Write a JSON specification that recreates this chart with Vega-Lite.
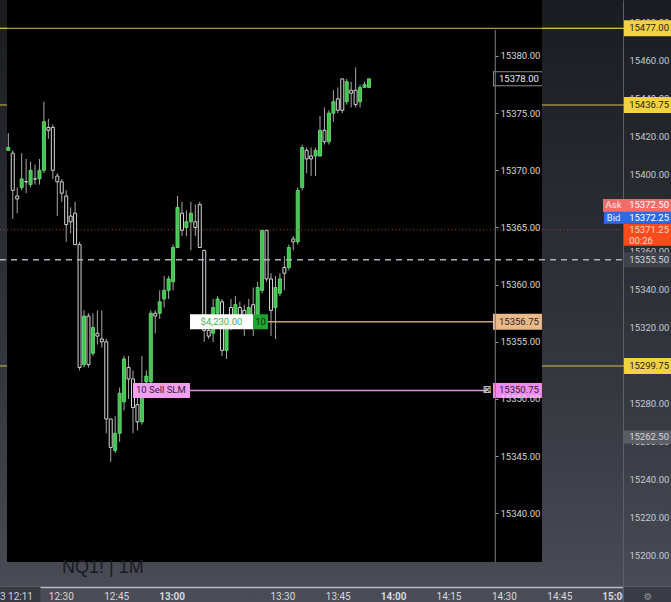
{
"$schema": "https://vega.github.io/schema/vega-lite/v6.json",
"width": 671, "height": 602, "padding": 0, "autosize": {"type": "none"},
"background": "#2b2d34",
"title": {"text": "NQ1! | 1M", "orient": "bottom", "anchor": "start", "frame": "group", "offset": 0, "dx": 62, "dy": -43, "fontSize": 18, "fontWeight": "normal", "font": "Liberation Sans", "color": "#191a1f"},
"config": {
  "view": {"stroke": null, "fill": {"gradient": "linear", "x1": 0, "y1": 0, "x2": 0, "y2": 1, "stops": [{"offset": 0, "color": "#1b1c21"}, {"offset": 0.3, "color": "#272930"}, {"offset": 0.65, "color": "#363840"}, {"offset": 1, "color": "#4a4d57"}]}},
  "text": {"font": "Roboto", "fontSize": 9.5, "baseline": "middle"}
},
"datasets": {
  "candles": [
    {"t":"2023-07-13T12:31:00Z","o":15371.75,"h":15373.25,"l":15371.75,"c":15372.0},
    {"t":"2023-07-13T12:32:00Z","o":15371.5,"h":15371.75,"l":15365.75,"c":15368.25},
    {"t":"2023-07-13T12:33:00Z","o":15367.75,"h":15368.5,"l":15366.25,"c":15367.5},
    {"t":"2023-07-13T12:34:00Z","o":15368.5,"h":15371.5,"l":15368.25,"c":15369.25},
    {"t":"2023-07-13T12:35:00Z","o":15369.0,"h":15371.0,"l":15368.0,"c":15369.0},
    {"t":"2023-07-13T12:36:00Z","o":15368.75,"h":15370.75,"l":15368.5,"c":15370.0},
    {"t":"2023-07-13T12:37:00Z","o":15369.25,"h":15370.5,"l":15368.75,"c":15369.25},
    {"t":"2023-07-13T12:38:00Z","o":15369.25,"h":15371.0,"l":15368.75,"c":15370.0},
    {"t":"2023-07-13T12:39:00Z","o":15370.0,"h":15376.0,"l":15369.75,"c":15374.25},
    {"t":"2023-07-13T12:40:00Z","o":15373.75,"h":15374.5,"l":15372.75,"c":15373.5},
    {"t":"2023-07-13T12:41:00Z","o":15373.75,"h":15374.0,"l":15369.25,"c":15370.0},
    {"t":"2023-07-13T12:42:00Z","o":15369.5,"h":15369.75,"l":15366.0,"c":15369.0},
    {"t":"2023-07-13T12:43:00Z","o":15369.0,"h":15369.25,"l":15367.25,"c":15368.0},
    {"t":"2023-07-13T12:44:00Z","o":15367.75,"h":15368.25,"l":15363.75,"c":15365.25},
    {"t":"2023-07-13T12:45:00Z","o":15366.0,"h":15366.75,"l":15364.5,"c":15365.5},
    {"t":"2023-07-13T12:46:00Z","o":15366.25,"h":15367.25,"l":15363.5,"c":15363.5},
    {"t":"2023-07-13T12:47:00Z","o":15363.5,"h":15363.75,"l":15352.5,"c":15352.75},
    {"t":"2023-07-13T12:48:00Z","o":15353.0,"h":15357.75,"l":15352.75,"c":15357.25},
    {"t":"2023-07-13T12:49:00Z","o":15357.25,"h":15357.5,"l":15352.75,"c":15353.0},
    {"t":"2023-07-13T12:50:00Z","o":15354.0,"h":15357.5,"l":15353.75,"c":15356.25},
    {"t":"2023-07-13T12:51:00Z","o":15355.75,"h":15357.75,"l":15354.75,"c":15355.5},
    {"t":"2023-07-13T12:52:00Z","o":15355.25,"h":15357.75,"l":15354.5,"c":15355.0},
    {"t":"2023-07-13T12:53:00Z","o":15355.0,"h":15355.25,"l":15347.0,"c":15348.25},
    {"t":"2023-07-13T12:54:00Z","o":15348.25,"h":15348.25,"l":15344.5,"c":15345.75},
    {"t":"2023-07-13T12:55:00Z","o":15345.5,"h":15348.5,"l":15345.25,"c":15347.0},
    {"t":"2023-07-13T12:56:00Z","o":15347.0,"h":15351.0,"l":15346.25,"c":15350.5},
    {"t":"2023-07-13T12:57:00Z","o":15349.75,"h":15353.75,"l":15349.0,"c":15353.5},
    {"t":"2023-07-13T12:58:00Z","o":15352.75,"h":15353.75,"l":15350.0,"c":15351.75},
    {"t":"2023-07-13T12:59:00Z","o":15351.75,"h":15352.5,"l":15347.0,"c":15349.25},
    {"t":"2023-07-13T13:00:00Z","o":15349.5,"h":15351.0,"l":15347.25,"c":15348.0},
    {"t":"2023-07-13T13:01:00Z","o":15348.0,"h":15353.75,"l":15347.75,"c":15350.25},
    {"t":"2023-07-13T13:02:00Z","o":15351.5,"h":15352.5,"l":15350.75,"c":15352.0},
    {"t":"2023-07-13T13:03:00Z","o":15351.5,"h":15357.75,"l":15351.25,"c":15357.5},
    {"t":"2023-07-13T13:04:00Z","o":15357.5,"h":15357.75,"l":15355.75,"c":15357.25},
    {"t":"2023-07-13T13:05:00Z","o":15357.5,"h":15359.5,"l":15357.0,"c":15358.5},
    {"t":"2023-07-13T13:06:00Z","o":15358.75,"h":15360.75,"l":15358.0,"c":15359.5},
    {"t":"2023-07-13T13:07:00Z","o":15359.5,"h":15360.75,"l":15358.75,"c":15360.5},
    {"t":"2023-07-13T13:08:00Z","o":15360.25,"h":15363.5,"l":15359.5,"c":15363.25},
    {"t":"2023-07-13T13:09:00Z","o":15363.25,"h":15367.75,"l":15363.25,"c":15366.75},
    {"t":"2023-07-13T13:10:00Z","o":15366.25,"h":15367.25,"l":15364.25,"c":15364.75},
    {"t":"2023-07-13T13:11:00Z","o":15365.0,"h":15366.5,"l":15364.25,"c":15365.5},
    {"t":"2023-07-13T13:12:00Z","o":15365.5,"h":15367.25,"l":15363.0,"c":15366.25},
    {"t":"2023-07-13T13:13:00Z","o":15365.5,"h":15367.0,"l":15364.25,"c":15365.0},
    {"t":"2023-07-13T13:14:00Z","o":15367.0,"h":15367.25,"l":15363.25,"c":15363.25},
    {"t":"2023-07-13T13:15:00Z","o":15363.0,"h":15363.0,"l":15355.0,"c":15356.0},
    {"t":"2023-07-13T13:16:00Z","o":15356.0,"h":15357.25,"l":15355.25,"c":15355.5},
    {"t":"2023-07-13T13:17:00Z","o":15355.75,"h":15358.75,"l":15355.0,"c":15358.0},
    {"t":"2023-07-13T13:18:00Z","o":15357.5,"h":15359.0,"l":15357.0,"c":15358.75},
    {"t":"2023-07-13T13:19:00Z","o":15358.5,"h":15358.75,"l":15353.75,"c":15354.25},
    {"t":"2023-07-13T13:20:00Z","o":15354.25,"h":15357.25,"l":15353.5,"c":15356.25},
    {"t":"2023-07-13T13:21:00Z","o":15358.0,"h":15358.75,"l":15356.0,"c":15356.75},
    {"t":"2023-07-13T13:22:00Z","o":15356.75,"h":15359.0,"l":15356.5,"c":15358.25},
    {"t":"2023-07-13T13:23:00Z","o":15358.0,"h":15358.5,"l":15356.25,"c":15357.0},
    {"t":"2023-07-13T13:24:00Z","o":15357.75,"h":15358.25,"l":15355.5,"c":15356.5},
    {"t":"2023-07-13T13:25:00Z","o":15356.75,"h":15358.75,"l":15356.5,"c":15358.0},
    {"t":"2023-07-13T13:26:00Z","o":15358.25,"h":15359.75,"l":15355.5,"c":15357.0},
    {"t":"2023-07-13T13:27:00Z","o":15357.25,"h":15360.25,"l":15357.0,"c":15359.75},
    {"t":"2023-07-13T13:28:00Z","o":15359.5,"h":15364.75,"l":15359.25,"c":15364.75},
    {"t":"2023-07-13T13:29:00Z","o":15364.75,"h":15364.75,"l":15360.25,"c":15360.5},
    {"t":"2023-07-13T13:30:00Z","o":15360.5,"h":15361.0,"l":15355.5,"c":15357.75},
    {"t":"2023-07-13T13:31:00Z","o":15358.0,"h":15360.75,"l":15355.25,"c":15359.75},
    {"t":"2023-07-13T13:32:00Z","o":15359.25,"h":15361.0,"l":15359.0,"c":15360.5},
    {"t":"2023-07-13T13:33:00Z","o":15361.5,"h":15362.5,"l":15359.5,"c":15361.0},
    {"t":"2023-07-13T13:34:00Z","o":15361.5,"h":15363.5,"l":15361.25,"c":15363.25},
    {"t":"2023-07-13T13:35:00Z","o":15364.0,"h":15364.25,"l":15363.0,"c":15363.75},
    {"t":"2023-07-13T13:36:00Z","o":15363.75,"h":15368.5,"l":15363.5,"c":15368.25},
    {"t":"2023-07-13T13:37:00Z","o":15368.5,"h":15372.25,"l":15368.25,"c":15372.0},
    {"t":"2023-07-13T13:38:00Z","o":15371.75,"h":15372.0,"l":15369.75,"c":15371.0},
    {"t":"2023-07-13T13:39:00Z","o":15371.25,"h":15372.0,"l":15369.5,"c":15371.0},
    {"t":"2023-07-13T13:40:00Z","o":15371.25,"h":15372.0,"l":15369.5,"c":15371.75},
    {"t":"2023-07-13T13:41:00Z","o":15371.25,"h":15374.75,"l":15371.25,"c":15373.5},
    {"t":"2023-07-13T13:42:00Z","o":15373.5,"h":15375.5,"l":15372.25,"c":15372.5},
    {"t":"2023-07-13T13:43:00Z","o":15372.5,"h":15375.25,"l":15372.25,"c":15375.0},
    {"t":"2023-07-13T13:44:00Z","o":15375.0,"h":15377.0,"l":15374.25,"c":15376.0},
    {"t":"2023-07-13T13:45:00Z","o":15376.25,"h":15377.25,"l":15375.0,"c":15375.25},
    {"t":"2023-07-13T13:46:00Z","o":15378.0,"h":15378.0,"l":15375.0,"c":15375.25},
    {"t":"2023-07-13T13:47:00Z","o":15376.0,"h":15378.0,"l":15375.75,"c":15377.75},
    {"t":"2023-07-13T13:48:00Z","o":15377.0,"h":15377.75,"l":15375.5,"c":15376.75},
    {"t":"2023-07-13T13:49:00Z","o":15377.0,"h":15379.0,"l":15375.5,"c":15375.75},
    {"t":"2023-07-13T13:50:00Z","o":15376.0,"h":15377.5,"l":15375.5,"c":15377.25},
    {"t":"2023-07-13T13:51:00Z","o":15377.25,"h":15377.75,"l":15377.25,"c":15377.5},
    {"t":"2023-07-13T13:52:00Z","o":15377.25,"h":15378.0,"l":15377.25,"c":15378.0}
  ],
  "alerts": [{"price": 15477}, {"price": 15436.75}, {"price": 15299.75}],
  "quote": [
    {"price": 15372.5, "role": "ask", "tag": "Ask"},
    {"price": 15372.25, "role": "bid", "tag": "Bid"},
    {"price": 15371.25, "role": "last", "countdown": "00:26"},
    {"price": 15355.5, "role": "crosshair"},
    {"price": 15262.5, "role": "mark"}
  ],
  "orders": [
    {"price": 15356.75, "role": "position", "qty": 10, "pnl": "$4,230.00"},
    {"price": 15350.75, "role": "stop", "qty": 10, "tag": "10 Sell SLM"}
  ],
  "lastbar": [{"price": 15378.0}]
},
"layer": [
  {
    "data": {"name": "alerts"},
    "mark": {"type": "rule", "color": "#d6bd52", "strokeWidth": 1},
    "encoding": {
      "x": {"datum": {"year":2023,"month":7,"date":13,"hours":12,"minutes":13,"seconds":32,"milliseconds":100,"utc":true}, "type": "temporal",
        "scale": {"type": "utc", "nice": false, "padding": 0, "domain": [{"year":2023,"month":7,"date":13,"hours":12,"minutes":13,"seconds":32,"milliseconds":100,"utc":true}, {"year":2023,"month":7,"date":13,"hours":15,"minutes":15,"seconds":15,"utc":true}]},
        "axis": {"orient": "bottom", "offset": -15, "title": null, "grid": false, "tickSize": 0, "labelPadding": 4,
          "values": [
            {"year":2023,"month":7,"date":13,"hours":12,"minutes":30,"utc":true},
            {"year":2023,"month":7,"date":13,"hours":12,"minutes":45,"utc":true},
            {"year":2023,"month":7,"date":13,"hours":13,"minutes":0,"utc":true},
            {"year":2023,"month":7,"date":13,"hours":13,"minutes":15,"utc":true},
            {"year":2023,"month":7,"date":13,"hours":13,"minutes":30,"utc":true},
            {"year":2023,"month":7,"date":13,"hours":13,"minutes":45,"utc":true},
            {"year":2023,"month":7,"date":13,"hours":14,"minutes":0,"utc":true},
            {"year":2023,"month":7,"date":13,"hours":14,"minutes":15,"utc":true},
            {"year":2023,"month":7,"date":13,"hours":14,"minutes":30,"utc":true},
            {"year":2023,"month":7,"date":13,"hours":14,"minutes":45,"utc":true},
            {"year":2023,"month":7,"date":13,"hours":15,"minutes":0,"utc":true}
          ],
          "labelExpr": "(utchours(datum.value) == 13 && utcminutes(datum.value) == 15) ? '' : utcFormat(datum.value, '%H:%M')",
          "labelFontWeight": {"condition": {"test": "utcminutes(datum.value) == 0", "value": "bold"}, "value": "normal"},
          "labelColor": "#d7d8dc", "labelFont": "Roboto", "labelFontSize": 10, "labelOverlap": false, "labelFlush": false,
          "domainColor": "#b9bcc4", "domainWidth": 1.5}},
      "x2": {"datum": {"year":2023,"month":7,"date":13,"hours":15,"minutes":15,"seconds":15,"utc":true}},
      "y": {"field": "price", "type": "quantitative", "scale": {"domain": [15175.85, 15491.86], "nice": false, "zero": false},
        "axis": {"orient": "right", "offset": -48, "title": null, "grid": false, "tickSize": 0, "labelPadding": 6,
          "values": [15200, 15220, 15240, 15260, 15280, 15320, 15340, 15360, 15400, 15420, 15440, 15460, 15480],
          "format": ".2f", "labelColor": "#c9cacf", "labelFont": "Roboto", "labelFontSize": 9.5, "labelOverlap": false, "labelFlush": false, "labelBound": false,
          "domainColor": "#5d6069", "domainWidth": 1}}
    }
  },
  {
    "layer": [
      {
        "data": {"values": [{}]},
        "mark": {"type": "rect", "color": "#000000"},
        "encoding": {
          "x": {"datum": {"year":2023,"month":7,"date":13,"hours":12,"minutes":30,"seconds":42,"milliseconds":500,"utc":true}, "type": "temporal",
            "scale": {"type": "utc", "nice": false, "padding": 0, "domain": [{"year":2023,"month":7,"date":13,"hours":12,"minutes":29,"seconds":8,"milliseconds":170,"utc":true}, {"year":2023,"month":7,"date":13,"hours":14,"minutes":59,"seconds":49,"milliseconds":200,"utc":true}]},
            "axis": null},
          "x2": {"datum": {"year":2023,"month":7,"date":13,"hours":14,"minutes":30,"seconds":50,"milliseconds":900,"utc":true}},
          "y": {"datum": 15384.898, "type": "quantitative", "scale": {"domain": [15332.242, 15384.898], "nice": false, "zero": false}, "axis": null},
          "y2": {"datum": 15335.742}
        }
      },
      {
        "data": {"name": "candles"},
        "mark": {"type": "rule", "color": "#a9a9a9", "strokeWidth": 1},
        "encoding": {
          "x": {"field": "t", "type": "temporal", "axis": null},
          "y": {"field": "l", "type": "quantitative", "axis": null},
          "y2": {"field": "h"}
        }
      },
      {
        "data": {"name": "candles"},
        "mark": {"type": "bar", "width": 3, "strokeWidth": 1},
        "encoding": {
          "x": {"field": "t", "type": "temporal", "axis": null},
          "y": {"field": "o", "type": "quantitative", "axis": null},
          "y2": {"field": "c"},
          "fill": {"condition": {"test": "datum.c > datum.o", "value": "#3fc44e"}, "value": "#000000"},
          "stroke": {"condition": {"test": "datum.c > datum.o", "value": "#62d36d"}, "value": "#d6d6d6"}
        }
      },
      {
        "data": {"name": "orders"},
        "transform": [{"filter": "datum.role == 'position'"}],
        "mark": {"type": "rule", "color": "#c7a27d", "strokeWidth": 1.5},
        "encoding": {
          "x": {"datum": {"year":2023,"month":7,"date":13,"hours":13,"minutes":29,"seconds":19,"milliseconds":100,"utc":true}, "type": "temporal", "axis": null},
          "x2": {"datum": {"year":2023,"month":7,"date":13,"hours":14,"minutes":19,"seconds":50,"milliseconds":700,"utc":true}},
          "y": {"field": "price", "type": "quantitative", "axis": null}
        }
      },
      {
        "data": {"name": "orders"},
        "transform": [{"filter": "datum.role == 'stop'"}],
        "mark": {"type": "rule", "color": "#e78ee7", "strokeWidth": 1.5},
        "encoding": {
          "x": {"datum": {"year":2023,"month":7,"date":13,"hours":13,"minutes":11,"seconds":48,"milliseconds":200,"utc":true}, "type": "temporal", "axis": null},
          "x2": {"datum": {"year":2023,"month":7,"date":13,"hours":14,"minutes":18,"seconds":29,"milliseconds":900,"utc":true}},
          "y": {"field": "price", "type": "quantitative", "axis": null}
        }
      },
      {
        "data": {"name": "lastbar"},
        "mark": {"type": "rule", "color": "#8e8e92", "strokeWidth": 15},
        "encoding": {
          "x": {"datum": {"year":2023,"month":7,"date":13,"hours":14,"minutes":19,"seconds":50,"milliseconds":700,"utc":true}, "type": "temporal", "axis": null},
          "x2": {"datum": {"year":2023,"month":7,"date":13,"hours":14,"minutes":30,"seconds":50,"milliseconds":900,"utc":true}},
          "y": {"field": "price", "type": "quantitative", "axis": null}
        }
      },
      {
        "data": {"name": "lastbar"},
        "mark": {"type": "rule", "color": "#000000", "strokeWidth": 13},
        "encoding": {
          "x": {"datum": {"year":2023,"month":7,"date":13,"hours":14,"minutes":20,"seconds":4,"milliseconds":200,"utc":true}, "type": "temporal", "axis": null},
          "x2": {"datum": {"year":2023,"month":7,"date":13,"hours":14,"minutes":30,"seconds":50,"milliseconds":900,"utc":true}},
          "y": {"field": "price", "type": "quantitative", "axis": null}
        }
      },
      {
        "data": {"name": "orders"},
        "transform": [{"filter": "datum.role == 'position'"}],
        "mark": {"type": "rule", "color": "#eab98a", "strokeWidth": 16},
        "encoding": {
          "x": {"datum": {"year":2023,"month":7,"date":13,"hours":14,"minutes":19,"seconds":50,"milliseconds":700,"utc":true}, "type": "temporal", "axis": null},
          "x2": {"datum": {"year":2023,"month":7,"date":13,"hours":14,"minutes":30,"seconds":50,"milliseconds":900,"utc":true}},
          "y": {"field": "price", "type": "quantitative", "axis": null}
        }
      },
      {
        "data": {"name": "orders"},
        "transform": [{"filter": "datum.role == 'stop'"}],
        "mark": {"type": "rule", "color": "#f08cf0", "strokeWidth": 15},
        "encoding": {
          "x": {"datum": {"year":2023,"month":7,"date":13,"hours":14,"minutes":19,"seconds":50,"milliseconds":700,"utc":true}, "type": "temporal", "axis": null},
          "x2": {"datum": {"year":2023,"month":7,"date":13,"hours":14,"minutes":30,"seconds":50,"milliseconds":900,"utc":true}},
          "y": {"field": "price", "type": "quantitative", "axis": null}
        }
      },
      {
        "data": {"name": "orders"},
        "transform": [{"filter": "datum.role == 'position'"}],
        "mark": {"type": "rule", "color": "#ffffff", "strokeWidth": 15},
        "encoding": {
          "x": {"datum": {"year":2023,"month":7,"date":13,"hours":13,"minutes":11,"seconds":48,"milliseconds":200,"utc":true}, "type": "temporal", "axis": null},
          "x2": {"datum": {"year":2023,"month":7,"date":13,"hours":13,"minutes":25,"seconds":57,"utc":true}},
          "y": {"field": "price", "type": "quantitative", "axis": null}
        }
      },
      {
        "data": {"name": "orders"},
        "transform": [{"filter": "datum.role == 'position'"}],
        "mark": {"type": "rule", "color": "#1fa631", "strokeWidth": 15},
        "encoding": {
          "x": {"datum": {"year":2023,"month":7,"date":13,"hours":13,"minutes":25,"seconds":57,"utc":true}, "type": "temporal", "axis": null},
          "x2": {"datum": {"year":2023,"month":7,"date":13,"hours":13,"minutes":29,"seconds":19,"milliseconds":100,"utc":true}},
          "y": {"field": "price", "type": "quantitative", "axis": null}
        }
      },
      {
        "data": {"name": "orders"},
        "transform": [{"filter": "datum.role == 'stop'"}],
        "mark": {"type": "rule", "color": "#f29ff2", "strokeWidth": 15},
        "encoding": {
          "x": {"datum": {"year":2023,"month":7,"date":13,"hours":12,"minutes":59,"seconds":0,"milliseconds":200,"utc":true}, "type": "temporal", "axis": null},
          "x2": {"datum": {"year":2023,"month":7,"date":13,"hours":13,"minutes":11,"seconds":48,"milliseconds":200,"utc":true}},
          "y": {"field": "price", "type": "quantitative", "axis": null}
        }
      },
      {
        "data": {"name": "orders"},
        "transform": [{"filter": "datum.role == 'stop'"}],
        "mark": {"type": "text", "text": "⊠", "font": "DejaVu Sans", "fontSize": 10, "color": "#e4e4e4", "align": "center"},
        "encoding": {
          "x": {"datum": {"year":2023,"month":7,"date":13,"hours":14,"minutes":18,"seconds":29,"milliseconds":900,"utc":true}, "type": "temporal", "axis": null},
          "y": {"field": "price", "type": "quantitative", "axis": null}
        }
      },
      {
        "data": {"name": "lastbar"},
        "mark": {"type": "text", "align": "left", "color": "#f0f0f0"},
        "encoding": {
          "x": {"datum": {"year":2023,"month":7,"date":13,"hours":14,"minutes":21,"seconds":11,"milliseconds":500,"utc":true}, "type": "temporal", "axis": null},
          "y": {"field": "price", "type": "quantitative", "axis": null},
          "text": {"field": "price", "type": "quantitative", "format": ".2f"}
        }
      },
      {
        "data": {"name": "orders"},
        "mark": {"type": "text", "align": "left", "color": "#2a2328"},
        "encoding": {
          "x": {"datum": {"year":2023,"month":7,"date":13,"hours":14,"minutes":21,"seconds":11,"milliseconds":500,"utc":true}, "type": "temporal", "axis": null},
          "y": {"field": "price", "type": "quantitative", "axis": null},
          "text": {"field": "price", "type": "quantitative", "format": ".2f"}
        }
      },
      {
        "data": {"name": "orders"},
        "transform": [{"filter": "datum.role == 'position'"}],
        "mark": {"type": "text", "align": "center", "color": "#3bb34b", "fontSize": 9.5},
        "encoding": {
          "x": {"datum": {"year":2023,"month":7,"date":13,"hours":13,"minutes":18,"seconds":52,"milliseconds":600,"utc":true}, "type": "temporal", "axis": null},
          "y": {"field": "price", "type": "quantitative", "axis": null},
          "text": {"field": "pnl", "type": "nominal"}
        }
      },
      {
        "data": {"name": "orders"},
        "transform": [{"filter": "datum.role == 'position'"}],
        "mark": {"type": "text", "align": "center", "color": "#0e2a10", "fontSize": 9.5},
        "encoding": {
          "x": {"datum": {"year":2023,"month":7,"date":13,"hours":13,"minutes":27,"seconds":38,"milliseconds":100,"utc":true}, "type": "temporal", "axis": null},
          "y": {"field": "price", "type": "quantitative", "axis": null},
          "text": {"field": "qty", "type": "nominal"}
        }
      },
      {
        "data": {"name": "orders"},
        "transform": [{"filter": "datum.role == 'stop'"}],
        "mark": {"type": "text", "align": "left", "color": "#3b1a40", "fontSize": 9.5},
        "encoding": {
          "x": {"datum": {"year":2023,"month":7,"date":13,"hours":12,"minutes":59,"seconds":40,"milliseconds":600,"utc":true}, "type": "temporal", "axis": null},
          "y": {"field": "price", "type": "quantitative", "axis": null},
          "text": {"field": "tag", "type": "nominal"}
        }
      }
    ]
  },
  {
    "data": {"values": [{}]},
    "mark": {"type": "rule", "color": "#7d7f85", "strokeWidth": 1},
    "encoding": {
      "x": {"datum": {"year":2023,"month":7,"date":13,"hours":14,"minutes":20,"seconds":21,"milliseconds":700,"utc":true}, "type": "temporal",
        "scale": {"type": "utc", "nice": false, "padding": 0, "domain": [{"year":2023,"month":7,"date":13,"hours":12,"minutes":29,"seconds":8,"milliseconds":170,"utc":true}, {"year":2023,"month":7,"date":13,"hours":14,"minutes":59,"seconds":49,"milliseconds":200,"utc":true}]},
        "axis": null},
      "y": {"datum": 15382.274, "type": "quantitative", "scale": {"domain": [15332.242, 15384.898], "nice": false, "zero": false},
        "axis": {"orient": "right", "offset": -176, "zindex": 1, "title": null, "grid": false, "domain": false,
          "values": [15340, 15345, 15350, 15355, 15360, 15365, 15370, 15375, 15380], "format": ".2f",
          "tickSize": 3, "tickColor": "#9a9a9a", "labelPadding": 2, "labelColor": "#d8d8d8", "labelFont": "Roboto", "labelFontSize": 9.5,
          "labelOverlap": false, "labelFlush": false, "labelBound": false}},
      "y2": {"datum": 15335.742}
    }
  },
  {
    "encoding": {
      "y": {"field": "price", "type": "quantitative", "scale": {"domain": [15175.85, 15491.86], "nice": false, "zero": false}, "axis": null}
    },
    "layer": [
      {
        "data": {"name": "alerts"},
        "transform": [{"filter": "datum.price > 15450"}],
        "mark": {"type": "rule", "color": "#d6bd52", "strokeWidth": 1},
        "encoding": {
          "x": {"datum": {"year":2023,"month":7,"date":13,"hours":12,"minutes":13,"seconds":32,"milliseconds":100,"utc":true}, "type": "temporal",
            "scale": {"type": "utc", "nice": false, "padding": 0, "domain": [{"year":2023,"month":7,"date":13,"hours":12,"minutes":13,"seconds":32,"milliseconds":100,"utc":true}, {"year":2023,"month":7,"date":13,"hours":15,"minutes":15,"seconds":15,"utc":true}]},
            "axis": null},
          "x2": {"datum": {"year":2023,"month":7,"date":13,"hours":15,"minutes":15,"seconds":15,"utc":true}}
        }
      },
      {
        "data": {"name": "quote"},
        "transform": [{"filter": "datum.role == 'last'"}],
        "mark": {"type": "rule", "color": "#a3392b", "strokeWidth": 1, "strokeDash": [1, 2.5]},
        "encoding": {
          "x": {"datum": {"year":2023,"month":7,"date":13,"hours":12,"minutes":13,"seconds":32,"milliseconds":100,"utc":true}, "type": "temporal", "axis": null},
          "x2": {"datum": {"year":2023,"month":7,"date":13,"hours":15,"minutes":15,"seconds":15,"utc":true}}
        }
      },
      {
        "data": {"name": "quote"},
        "transform": [{"filter": "datum.role == 'crosshair'"}],
        "mark": {"type": "rule", "color": "#aeb0b7", "strokeWidth": 1.5, "strokeDash": [6, 5]},
        "encoding": {
          "x": {"datum": {"year":2023,"month":7,"date":13,"hours":12,"minutes":13,"seconds":32,"milliseconds":100,"utc":true}, "type": "temporal", "axis": null},
          "x2": {"datum": {"year":2023,"month":7,"date":13,"hours":15,"minutes":15,"seconds":15,"utc":true}}
        }
      },
      {
        "data": {"name": "alerts"},
        "mark": {"type": "rule", "color": "#f3d242", "strokeWidth": 16},
        "encoding": {
          "x": {"datum": {"year":2023,"month":7,"date":13,"hours":15,"minutes":2,"seconds":31,"utc":true}, "type": "temporal", "axis": null},
          "x2": {"datum": {"year":2023,"month":7,"date":13,"hours":15,"minutes":15,"seconds":15,"utc":true}}
        }
      },
      {
        "data": {"name": "alerts"},
        "mark": {"type": "text", "align": "left", "color": "#1e1e1e"},
        "encoding": {
          "x": {"datum": {"year":2023,"month":7,"date":13,"hours":15,"minutes":3,"seconds":55,"utc":true}, "type": "temporal", "axis": null},
          "text": {"field": "price", "type": "quantitative", "format": ".2f"}
        }
      },
      {
        "data": {"name": "quote"},
        "transform": [{"filter": "datum.role == 'ask'"}],
        "mark": {"type": "rule", "color": "#f26b6b", "strokeWidth": 13, "yOffset": -22},
        "encoding": {
          "x": {"datum": {"year":2023,"month":7,"date":13,"hours":14,"minutes":56,"seconds":50,"utc":true}, "type": "temporal", "axis": null},
          "x2": {"datum": {"year":2023,"month":7,"date":13,"hours":15,"minutes":15,"seconds":15,"utc":true}}
        }
      },
      {
        "data": {"name": "quote"},
        "transform": [{"filter": "datum.role == 'bid'"}],
        "mark": {"type": "rule", "color": "#2c6be8", "strokeWidth": 12, "yOffset": -10},
        "encoding": {
          "x": {"datum": {"year":2023,"month":7,"date":13,"hours":14,"minutes":57,"seconds":6,"utc":true}, "type": "temporal", "axis": null},
          "x2": {"datum": {"year":2023,"month":7,"date":13,"hours":15,"minutes":15,"seconds":15,"utc":true}}
        }
      },
      {
        "data": {"name": "quote"},
        "transform": [{"filter": "datum.role == 'last'"}],
        "mark": {"type": "rule", "color": "#ff4b1c", "strokeWidth": 22, "yOffset": 5},
        "encoding": {
          "x": {"datum": {"year":2023,"month":7,"date":13,"hours":15,"minutes":2,"seconds":31,"utc":true}, "type": "temporal", "axis": null},
          "x2": {"datum": {"year":2023,"month":7,"date":13,"hours":15,"minutes":15,"seconds":15,"utc":true}}
        }
      },
      {
        "data": {"name": "quote"},
        "transform": [{"filter": "datum.role == 'crosshair'"}],
        "mark": {"type": "rule", "color": "#3f424b", "strokeWidth": 15},
        "encoding": {
          "x": {"datum": {"year":2023,"month":7,"date":13,"hours":15,"minutes":2,"seconds":31,"utc":true}, "type": "temporal", "axis": null},
          "x2": {"datum": {"year":2023,"month":7,"date":13,"hours":15,"minutes":15,"seconds":15,"utc":true}}
        }
      },
      {
        "data": {"name": "quote"},
        "transform": [{"filter": "datum.role == 'mark'"}],
        "mark": {"type": "rule", "color": "#5b5d65", "strokeWidth": 13},
        "encoding": {
          "x": {"datum": {"year":2023,"month":7,"date":13,"hours":15,"minutes":2,"seconds":31,"utc":true}, "type": "temporal", "axis": null},
          "x2": {"datum": {"year":2023,"month":7,"date":13,"hours":15,"minutes":15,"seconds":15,"utc":true}}
        }
      },
      {
        "data": {"name": "quote"},
        "transform": [{"filter": "datum.role == 'ask'"}],
        "mark": {"type": "text", "align": "center", "color": "#ffe6e6", "yOffset": -22},
        "encoding": {
          "x": {"datum": {"year":2023,"month":7,"date":13,"hours":14,"minutes":59,"seconds":41,"utc":true}, "type": "temporal", "axis": null},
          "text": {"field": "tag", "type": "nominal"}
        }
      },
      {
        "data": {"name": "quote"},
        "transform": [{"filter": "datum.role == 'bid'"}],
        "mark": {"type": "text", "align": "center", "color": "#e6eeff", "yOffset": -10},
        "encoding": {
          "x": {"datum": {"year":2023,"month":7,"date":13,"hours":14,"minutes":59,"seconds":41,"utc":true}, "type": "temporal", "axis": null},
          "text": {"field": "tag", "type": "nominal"}
        }
      },
      {
        "data": {"name": "quote"},
        "transform": [{"filter": "datum.role == 'ask'"}],
        "mark": {"type": "text", "align": "left", "color": "#ffffff", "yOffset": -22},
        "encoding": {
          "x": {"datum": {"year":2023,"month":7,"date":13,"hours":15,"minutes":3,"seconds":55,"utc":true}, "type": "temporal", "axis": null},
          "text": {"field": "price", "type": "quantitative", "format": ".2f"}
        }
      },
      {
        "data": {"name": "quote"},
        "transform": [{"filter": "datum.role == 'bid'"}],
        "mark": {"type": "text", "align": "left", "color": "#ffffff", "yOffset": -10},
        "encoding": {
          "x": {"datum": {"year":2023,"month":7,"date":13,"hours":15,"minutes":3,"seconds":55,"utc":true}, "type": "temporal", "axis": null},
          "text": {"field": "price", "type": "quantitative", "format": ".2f"}
        }
      },
      {
        "data": {"name": "quote"},
        "transform": [{"filter": "datum.role == 'last'"}],
        "mark": {"type": "text", "align": "left", "color": "#ffd9cc", "yOffset": 0},
        "encoding": {
          "x": {"datum": {"year":2023,"month":7,"date":13,"hours":15,"minutes":3,"seconds":55,"utc":true}, "type": "temporal", "axis": null},
          "text": {"field": "price", "type": "quantitative", "format": ".2f"}
        }
      },
      {
        "data": {"name": "quote"},
        "transform": [{"filter": "datum.role == 'last'"}],
        "mark": {"type": "text", "align": "left", "color": "#ffd9cc", "yOffset": 11},
        "encoding": {
          "x": {"datum": {"year":2023,"month":7,"date":13,"hours":15,"minutes":3,"seconds":55,"utc":true}, "type": "temporal", "axis": null},
          "text": {"field": "countdown", "type": "nominal"}
        }
      },
      {
        "data": {"name": "quote"},
        "transform": [{"filter": "datum.role == 'crosshair' || datum.role == 'mark'"}],
        "mark": {"type": "text", "align": "left", "color": "#d6d7db"},
        "encoding": {
          "x": {"datum": {"year":2023,"month":7,"date":13,"hours":15,"minutes":3,"seconds":55,"utc":true}, "type": "temporal", "axis": null},
          "text": {"field": "price", "type": "quantitative", "format": ".2f"}
        }
      }
    ]
  },
  {
    "data": {"values": [{"stamp": "3  12:11"}]},
    "encoding": {
      "x": {"datum": {"year":2023,"month":7,"date":13,"hours":12,"minutes":13,"seconds":32,"milliseconds":100,"utc":true}, "type": "temporal",
        "scale": {"type": "utc", "nice": false, "padding": 0, "domain": [{"year":2023,"month":7,"date":13,"hours":12,"minutes":13,"seconds":32,"milliseconds":100,"utc":true}, {"year":2023,"month":7,"date":13,"hours":15,"minutes":15,"seconds":15,"utc":true}]},
        "axis": null},
      "y": {"datum": 15183.9, "type": "quantitative", "scale": {"domain": [15175.85, 15491.86], "nice": false, "zero": false}, "axis": null}
    },
    "layer": [
      {
        "mark": {"type": "rect", "color": "#383a42"},
        "encoding": {
          "x2": {"datum": {"year":2023,"month":7,"date":13,"hours":12,"minutes":24,"seconds":30,"utc":true}},
          "y2": {"datum": 15175.85}
        }
      },
      {
        "mark": {"type": "rect", "color": "#3a3c45"},
        "encoding": {
          "x": {"datum": {"year":2023,"month":7,"date":13,"hours":15,"minutes":2,"seconds":31,"utc":true}, "type": "temporal", "axis": null},
          "x2": {"datum": {"year":2023,"month":7,"date":13,"hours":15,"minutes":15,"seconds":15,"utc":true}},
          "y2": {"datum": 15175.85}
        }
      },
      {
        "mark": {"type": "text", "text": "⚙", "font": "DejaVu Sans", "fontSize": 10, "color": "#8f9199", "align": "center", "baseline": "middle"},
        "encoding": {
          "x": {"datum": {"year":2023,"month":7,"date":13,"hours":15,"minutes":9,"seconds":0,"utc":true}, "type": "temporal", "axis": null},
          "y": {"datum": 15178.48, "type": "quantitative", "axis": null}
        }
      },
      {
        "mark": {"type": "text", "align": "right", "baseline": "middle", "color": "#cfd0d4", "fontSize": 10, "font": "Roboto"},
        "encoding": {
          "x": {"datum": {"year":2023,"month":7,"date":13,"hours":12,"minutes":22,"seconds":28,"utc":true}, "type": "temporal", "axis": null},
          "y": {"datum": 15178.48, "type": "quantitative", "axis": null},
          "text": {"field": "stamp", "type": "nominal"}
        }
      }
    ]
  }
],
"resolve": {"scale": {"x": "independent", "y": "independent"}}
}
